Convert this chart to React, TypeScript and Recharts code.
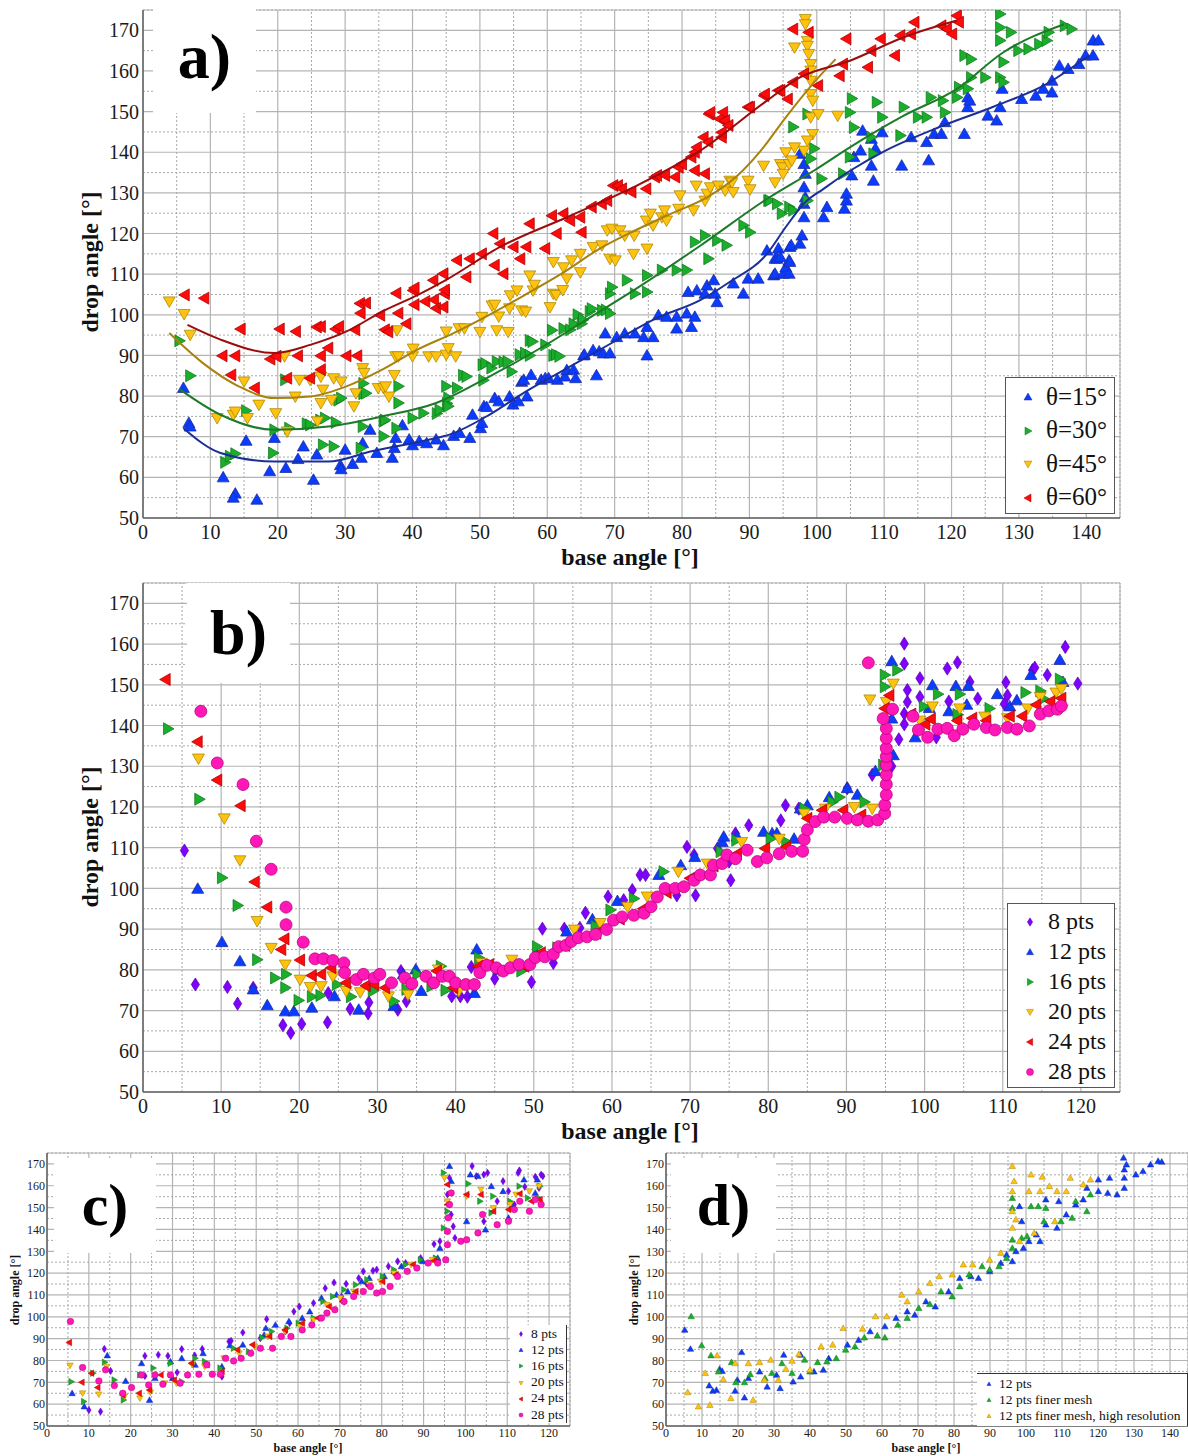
import React from "react";
import { ScatterChart, Scatter, XAxis, YAxis, CartesianGrid, ReferenceLine } from "recharts";

type Pt = [number, number];

// ---- shared ticks ----
const yTicks = [50, 60, 70, 80, 90, 100, 110, 120, 130, 140, 150, 160, 170];
const yMinor = [55, 65, 75, 85, 95, 105, 115, 125, 135, 145, 155, 165, 175];
const xTicks145 = [0, 10, 20, 30, 40, 50, 60, 70, 80, 90, 100, 110, 120, 130, 140];
const xMinor145 = [5, 15, 25, 35, 45, 55, 65, 75, 85, 95, 105, 115, 125, 135, 145];
const xTicks125 = [0, 10, 20, 30, 40, 50, 60, 70, 80, 90, 100, 110, 120];
const xMinor125 = [5, 15, 25, 35, 45, 55, 65, 75, 85, 95, 105, 115, 125];

// ---- panel a) ----
const aLabels = ["θ=15°", "θ=30°", "θ=45°", "θ=60°"];
const aBlue: Pt[] = [
  [6, 82], [6.8, 73.4], [7, 72.5], [11.9, 60], [13.7, 56], [13.4, 55], [15.3, 69], [16.9, 54.5], [18.8, 61.5], [19.5, 69.7],
  [21.2, 62.3], [23, 64.5], [23.8, 67.6], [25.3, 59.4], [25.8, 65.6], [29.3, 63], [29.4, 62], [30, 66.8], [31.1, 63.3], [32.4, 64.8],
  [32.6, 68.4], [33.7, 71.7], [34.7, 66], [37, 64.8], [37.3, 67.2], [37.5, 69.7], [38.5, 72.8], [39.5, 69.3], [40, 67.9], [41, 68.9],
  [42.1, 68.4], [43.5, 69.3], [44.6, 67.9], [46.1, 70.2], [47, 70.9], [48.5, 69.7], [48.9, 75.4], [50.1, 72.1], [50.3, 73.4], [50.6, 77.5],
  [51, 77.3], [52.2, 79.5], [52.8, 78.7], [54.4, 79.9], [54.9, 77.9], [55.7, 78.7], [56.2, 83.5], [56.5, 84], [57, 79.9], [57.6, 85.2],
  [59.1, 84], [59.7, 84.4], [60.2, 84.4], [61.5, 84], [62.6, 84.8], [62.9, 86.4], [63.9, 86.5], [64.2, 84.4], [65.4, 90], [65.5, 90.2],
  [66.8, 91.3], [67.3, 85.1], [67.7, 91], [68.3, 90.5], [68.6, 95.4], [69.3, 90.5], [70.3, 94.5], [71.5, 95.4], [73, 95.4], [74.3, 94.5],
  [74.8, 97], [74.8, 90], [75.7, 94.5], [76.5, 99.9], [77.7, 99.5], [79.2, 99.5], [79.2, 96.6], [80.7, 100.3], [80.9, 105.6], [81.4, 97],
  [81.9, 99.5], [82.2, 106], [83.4, 105.2], [83.7, 107.2], [84.7, 108.5], [84.9, 105.2], [85.2, 103.1], [87.6, 107.7], [89.1, 105.2], [89.8, 108.9],
  [91.3, 108.9], [92.6, 115.8], [93.6, 109.7], [93.8, 113.8], [93.8, 110.1], [94.1, 113.8], [94.3, 116.3], [94.6, 114.2], [95, 110.1], [95.4, 111.7],
  [95.9, 113.4], [95.9, 110.1], [96, 116.7], [96, 113], [96.2, 117.1], [97.5, 117.5], [97.8, 119.5], [98.1, 124], [98.1, 127.3], [98.1, 131.4],
  [98.3, 128.9], [98.3, 134.7], [98.1, 137.1], [97.5, 139.6], [101, 124], [101.5, 126.5], [104.1, 126.1], [104.4, 128.1], [104.4, 129.8], [105.2, 134.3],
  [105.5, 138.8], [106.5, 140.4], [106.8, 145.3], [108.1, 136.7], [108.1, 143.3], [108.4, 133], [108.7, 140.9], [109.7, 144.9], [112.6, 136.7], [114, 143.7],
  [116.3, 142.5], [116.6, 138], [117.4, 144.5], [118.5, 144.5], [119, 147.4], [121.9, 144.5], [122.4, 153.5], [122.4, 151.1], [122.7, 152.7], [125.4, 149],
  [126.7, 147.8], [127.2, 151.1], [127.5, 155.6], [130.4, 153.1], [132.5, 153.9], [133.6, 155.6], [134.9, 154.7], [134.9, 157.6], [136, 161.3], [137.3, 160.5],
  [138.9, 161.7], [139.9, 163.8], [141, 163.8], [141, 167.5], [141.8, 167.5],
];
const aGreen: Pt[] = [
  [5.4, 93.6], [7, 85], [12.2, 63.7], [12.9, 65.2], [13.7, 65.8], [15.3, 76.4], [19.3, 66], [19.5, 71.7], [21.1, 84], [21.7, 72.1],
  [24.3, 73.2], [24.8, 72.9], [26.3, 74.1], [26.7, 68], [27, 74.6], [28.3, 67.6], [28.6, 73.5], [29, 79], [29.4, 79.5], [32.3, 67.2],
  [32.6, 72.5], [32.7, 83.1], [32.7, 80.6], [33.1, 80.7], [35.7, 73.8], [35.7, 70.1], [35.9, 74.1], [37.6, 72.1], [37.9, 82.4], [37.9, 78.3],
  [40, 74.6], [41.6, 75.8], [43.6, 75.7], [44, 76.6], [45, 82.4], [45.1, 78.2], [45.3, 79.5], [45.3, 77.5], [46.6, 82], [47.5, 85.1],
  [48, 84.8], [50.4, 87.7], [50.5, 83.9], [50.8, 88], [51.7, 86.9], [52.5, 88.5], [53.5, 88.4], [54.1, 88.5], [54.7, 86], [55.9, 90.2],
  [56.7, 90.6], [57.4, 93.7], [57.4, 90], [57.8, 93.4], [59.7, 92.6], [60.7, 96.2], [60.9, 90], [61.3, 90.2], [61.8, 89.8], [62.4, 96.6],
  [63.4, 96.3], [63.9, 97.8], [64.5, 100], [65.1, 97.8], [65.3, 98.8], [66.3, 100.8], [66.6, 101.5], [68.1, 101.1], [68.7, 101.2], [69.3, 105.2],
  [69.3, 100.3], [69.6, 106.8], [71.8, 108.5], [73, 105.2], [74.8, 105.6], [74.8, 109.7], [77, 111], [79.2, 111], [80.7, 111], [81.9, 117.9],
  [83.4, 119.5], [83.9, 113.8], [85.2, 118.3], [86.6, 117.1], [89.1, 122], [90.1, 120.3], [92.8, 128.1], [93, 128.1], [94.1, 127.3], [94.8, 124.9],
  [95.9, 126.5], [96.5, 125.7], [96.5, 146.2], [98.6, 149.4], [98.6, 128.1], [99.1, 138.4], [99.6, 140.9], [100.7, 133.5], [103.9, 134.7], [104.9, 138.8],
  [104.9, 149.8], [105.2, 153.2], [105.5, 146.1], [108.1, 143.7], [108.4, 139.6], [108.9, 152.3], [109.7, 148.6], [112.4, 144.1], [112.9, 151.1], [115, 148.6],
  [116.3, 148.6], [116.9, 153.5], [118.7, 152.7], [119, 149.8], [120.8, 153.5], [121.1, 156], [121.9, 163.8], [122.4, 155.6], [122.9, 158.4], [122.9, 162.9],
  [125, 158.4], [127.2, 174], [127.2, 170.7], [127.2, 167.5], [127.7, 162.2], [127.2, 158.4], [127.7, 157.2], [128.8, 169.5], [129.9, 165], [131.4, 165.4],
  [133, 166.6], [134.1, 167.5], [134.4, 169.5], [136.8, 171.1], [137.8, 170.3],
];
const aYellow: Pt[] = [
  [3.9, 103.3], [6.1, 100.2], [7, 95.1], [11, 74.6], [13.4, 75.4], [13.7, 76.2], [15, 83.6], [15.5, 74.6], [17.2, 77.9], [19.7, 75.8],
  [21, 89.8], [21.4, 71.3], [22.6, 79.9], [23.2, 84], [24.8, 84], [25.9, 73.8], [26.4, 84.8], [26.4, 78.3], [26.7, 81.6], [28, 79.1],
  [28.3, 84.4], [29.4, 83.6], [31.3, 77.5], [31.6, 80.7], [32.6, 86.9], [32.8, 85.7], [34.9, 82], [35.7, 82], [36, 82.4], [36.5, 79.9],
  [37.3, 85.2], [37.5, 89.8], [37.7, 96.2], [37.9, 89.8], [40, 89.8], [40.1, 91.7], [42.4, 89.8], [43.5, 89.8], [45, 90.2], [45, 95.9],
  [45.3, 91.8], [46.4, 89.8], [46.9, 96.7], [47.7, 96.7], [50, 95.8], [50.3, 99.5], [51.8, 102.3], [52.2, 102.5], [52.5, 96.2], [52.8, 99.6],
  [54.2, 95.8], [54.4, 101.6], [54.5, 104.8], [55.5, 106], [56.2, 101.1], [56.8, 100.8], [57.4, 109.7], [57.9, 106], [58.1, 107.4], [60.4, 101.9],
  [60.9, 105.2], [60.9, 113], [61.3, 104.9], [62.3, 106.1], [62.4, 111.7], [62.9, 108.9], [63.6, 113.4], [64.9, 110.5], [64.9, 115], [66.8, 116.7],
  [68.1, 117.1], [68.9, 120.8], [69.3, 113.8], [69.6, 121.2], [70.1, 113.4], [70.8, 120.8], [71.5, 119.5], [72.8, 115], [72.9, 119.5], [74.7, 123.2],
  [74.8, 116.3], [75.3, 124.9], [75.7, 122], [77, 124], [77.4, 125.7], [77.7, 123.2], [79.5, 126.1], [79.7, 129.4], [81.7, 125.7], [82.1, 131.8],
  [83.4, 128.1], [83.7, 129.8], [84.2, 131.4], [85.4, 131.8], [86.4, 130.6], [87.1, 133], [87.4, 132.6], [87.6, 130.2], [89.8, 133], [90.1, 130.9],
  [92.1, 136.7], [93.8, 132.6], [94.6, 137.1], [94.9, 136.3], [95, 134.7], [95.4, 140], [95.9, 137.1], [96.3, 138], [96.7, 141.2], [96.7, 165.8],
  [98.3, 172.8], [98.3, 171.5], [98.6, 167.4], [98.6, 166.2], [98.8, 164.2], [99.1, 161.7], [99.1, 160.1], [99.1, 157.6], [99.1, 154.3], [99.4, 152.7],
  [99.1, 148.6], [99.4, 144.5], [98.6, 142.9], [98.1, 140.4], [100.2, 149.4], [103.1, 149],
];
const aRed: Pt[] = [
  [6.2, 104.9], [9.1, 104.1], [11.8, 89.9], [13.1, 85.2], [13.7, 89.9], [14.5, 96.5], [16.6, 82], [18.9, 89.1], [19.8, 89.8], [20.3, 96.5],
  [21.4, 84.4], [22.7, 95.9], [23, 89.9], [24.8, 84.4], [25.8, 97], [26.4, 97.1], [26.4, 89.9], [26.4, 86.5], [27.5, 91.8], [28.6, 96.5],
  [29.1, 97.1], [30.2, 89.9], [31.5, 96.3], [31.8, 89.9], [32.2, 102.8], [32.3, 100.4], [33.1, 102.9], [35.2, 99.9], [35.9, 96.3], [36.4, 95.8],
  [37.6, 105.3], [37.9, 100.4], [39.1, 97.8], [40.1, 106], [40.3, 102.5], [40.3, 106.6], [41.9, 103.3], [43.1, 108.5], [43.2, 103.7], [43.5, 101.6],
  [44.6, 110.1], [44.6, 101.9], [44.8, 105.2], [44.8, 106.1], [46.6, 113.4], [48, 109.3], [48.5, 113.8], [50.3, 115], [52, 120], [52.2, 112.2],
  [53, 117.5], [53.5, 110.1], [55, 116.7], [56, 113.8], [56.9, 116.7], [57.4, 122.4], [59.7, 116.3], [60.7, 124.4], [61.4, 120], [62.4, 124.9],
  [63.4, 123.2], [64.9, 124], [65.1, 120.3], [66.6, 126.5], [68.1, 127.3], [68.9, 128.1], [69.8, 131.8], [70.5, 131.8], [71.1, 131], [72.5, 130.2],
  [74.7, 131], [76, 133.9], [76.3, 134.3], [77.5, 134.3], [79, 133.9], [79.5, 136.3], [80, 137.1], [81.4, 138.8], [81.9, 135.5], [81.9, 140],
  [82.2, 141.2], [83.2, 143.7], [83.4, 134.7], [83.9, 142.5], [84, 149.4], [84.2, 149.8], [85.6, 148.2], [85.9, 143.7], [85.9, 144.9], [86.1, 149.8],
  [86.4, 147.8], [86.9, 146.6], [89.8, 151.1], [90.1, 151.1], [92.2, 153.9], [92.3, 154.3], [94.3, 155.2], [94.6, 155.2], [95.7, 153.1], [96.5, 157.2],
  [96.5, 170.3], [98.1, 159.3], [98.8, 169.5], [100.2, 156.4], [103.4, 158.8], [103.9, 161.7], [104.4, 167.9], [107.6, 160.9], [108.1, 165], [109.5, 167.9],
  [111.6, 163.8], [112.4, 168.7], [114, 169.1], [114.5, 172], [118.5, 171.1], [119.3, 170.3], [120.1, 169.1], [120.8, 173.6], [121.1, 172],
];
const aFitBlue: Pt[] = [
  [6, 72.1], [11.5, 66], [19.5, 63.9], [27.5, 63.9], [33.9, 66.4], [40.8, 68.7], [46.1, 70.9], [51.4, 75.4], [56.8, 81.1], [62.1, 86.1],
  [69.5, 93], [76, 99], [82.7, 103.6], [87, 108], [92.6, 115], [95.4, 121.6], [98.1, 127.4], [101, 131], [105, 135.5], [110.2, 140.4],
  [118.2, 146.2], [126.2, 151.2], [134, 156.7], [140.4, 163.8],
];
const aFitGreen: Pt[] = [
  [5.4, 81.7], [11.5, 75.4], [19.5, 71.7], [27.5, 72.5], [35.5, 75], [43.5, 78.3], [51.4, 84.8], [59.4, 92.2], [66, 99], [72.8, 106],
  [82.7, 117], [92.6, 128.5], [99.6, 135.5], [104.9, 141.2], [112.9, 149], [120.8, 155.6], [127.7, 164.6], [136.7, 171.5],
];
const aFitYellow: Pt[] = [
  [3.9, 95.5], [8.9, 88.1], [14.2, 82.4], [19.5, 79.5], [24.8, 79.9], [30.2, 82.4], [35.5, 86.5], [40.8, 91.5], [46.1, 95.5], [51.4, 100],
  [56.8, 105], [62, 110], [67.8, 116.3], [73.1, 120.8], [78.4, 124.9], [83.7, 128.9], [88, 133.9], [91.7, 140.4], [95.4, 148.6], [99.6, 157.2],
  [102.8, 162.9],
];
const aFitRed: Pt[] = [
  [6.6, 97.5], [11.5, 93.9], [19.5, 90.6], [24.8, 92.6], [30.2, 95.9], [35.5, 100.8], [40.8, 104.9], [45, 108.6], [53, 116.7], [62.9, 124],
  [72.8, 131.4], [82.7, 140.4], [92.6, 152.7], [97.5, 158.4], [104.9, 162.5], [112.9, 168.3], [120.8, 172.4],
];

// ---- panel b) ----
const ptsLabels = ["8 pts", "12 pts", "16 pts", "20 pts", "24 pts", "28 pts"];
const bPurple: Pt[] = [
  [5.3, 109.3], [6.7, 76.4], [10.8, 75.8], [12.1, 71.7], [14.1, 75.6], [17.9, 66.4], [18.9, 64.5], [20.3, 66.7], [23.6, 67.1], [23.7, 74.3],
  [26.5, 70.4], [28.8, 69.3], [28.9, 72], [32.6, 70.2], [33, 79.7], [33.7, 72.3], [39.5, 73.5], [40.6, 73.5], [41.5, 73.4], [42, 80.7],
  [45, 77.8], [49.7, 77], [51.1, 90.1], [52.5, 81.7], [53.9, 90.1], [55.9, 90.3], [56.6, 94], [59.5, 98], [61.5, 97.1], [62.6, 99.6],
  [63.6, 103.3], [64.3, 103.3], [68.3, 98.3], [69.6, 110.2], [70.5, 108.2], [70.7, 98.3], [73.5, 109.8], [75, 106.6], [75.2, 102], [75.8, 113.5],
  [77.5, 115.5], [81.6, 116.7], [82.2, 120.4], [83.9, 119.6], [90.1, 124.6], [93.3, 127.9], [95.8, 130], [96.7, 136.6], [97.4, 140.3], [97.4, 142.9],
  [97.4, 155.2], [97.4, 160.1], [97.8, 145.8], [97.8, 148.7], [99.4, 147], [99.4, 151.6], [101.5, 137.1], [102.9, 154], [103.1, 145.9], [104.2, 155.5],
  [105.8, 150.7], [106.8, 146.6], [110.2, 145.3], [110.4, 150.6], [110.6, 147.4], [113.8, 153.6], [114.1, 154.2], [115.7, 152.4], [118, 159.3], [119.6, 150.3],
];
const bBlue: Pt[] = [
  [7, 99.9], [10.1, 86.8], [12.4, 82.1], [14.1, 75.2], [15.9, 71.3], [18.2, 69.8], [19.3, 69.8], [21.6, 70.7], [24.5, 73.5], [27.6, 70.2],
  [32.1, 71.1], [33.3, 78.9], [34.9, 80.1], [35.6, 74.8], [42.4, 74.3], [42.7, 85], [45.5, 80], [50.3, 84], [54.2, 89.4], [57.5, 92.4],
  [60.7, 96.9], [66, 103.3], [68.8, 105.7], [70.6, 107.7], [74.1, 111.4], [74.3, 112.7], [76, 112.7], [79.4, 113.9], [80.5, 113.5], [81.1, 113.5],
  [83.3, 112.2], [84.1, 119.6], [85, 120.4], [87.8, 122.4], [90.1, 124.6], [91.4, 123], [93.7, 128.8], [95.8, 141.7], [95.8, 155.8], [96, 132.7],
  [98.8, 137.1], [100.6, 144.3], [101, 149.9], [103.1, 143.5], [104, 149.7], [105.4, 145.1], [105.6, 149.7], [109.3, 147.7], [110.9, 144.7], [111.8, 146.2],
  [113.6, 152.4], [117.3, 156.1], [117.7, 150.7],
];
const bGreen: Pt[] = [
  [3.2, 139.2], [7.2, 121.9], [10.1, 102.6], [12.1, 95.8], [14.6, 82.5], [16.9, 78], [18.3, 78.9], [18.2, 75.6], [19.9, 72.5], [21.6, 73.4],
  [22.7, 73.7], [24.8, 76.4], [26.6, 73.4], [29.4, 74.8], [32.1, 72.3], [33.7, 75.2], [35.1, 78.9], [36.9, 76], [38.1, 80.9], [38.7, 75],
  [43, 82.9], [46.1, 79.9], [48.4, 79.7], [50.4, 85.7], [53, 85.4], [57.9, 90.7], [59.8, 94.7], [62.8, 97.5], [66.6, 104.1], [73.9, 109],
  [75.9, 111.8], [80.3, 112.2], [82.3, 111.4], [84.6, 119.6], [88.2, 121.2], [89.1, 122.4], [92.3, 121.2], [94.7, 130.3], [94.9, 149.5], [94.9, 152.4],
  [96.5, 153.6], [99.9, 144.7], [101.7, 147.7], [104.2, 142.7], [104.5, 147.7], [108.3, 144.2], [112.9, 148.1], [114.8, 148.5], [115.2, 146.6], [117.3, 151.4],
];
const bYellow: Pt[] = [
  [7.1, 131.9], [10.4, 117.2], [12.4, 106.9], [14.6, 92], [16.4, 85.4], [18.2, 81.3], [20.1, 77.6], [21.4, 75.8], [22.8, 76], [24.3, 78.4],
  [26, 74.8], [27.8, 74.5], [31.4, 73.5], [33.9, 73.9], [37.8, 80.1], [40.4, 74.8], [43.3, 81.7], [47.2, 82.5], [55.2, 89.9], [58.5, 91.5],
  [62, 95.5], [64.5, 98], [68.5, 104.1], [72.2, 106.1], [76.6, 111.4], [81.4, 112.2], [84.6, 118.4], [87.3, 119.6], [91, 120], [93, 146.4],
  [93.3, 119.6], [95.1, 145.8], [96, 150.3], [99.4, 141.2], [101, 144.7], [104.5, 144.2], [107.7, 142.2], [110.6, 141.8], [113.2, 144.2], [114.8, 147],
  [116.8, 148.1], [117.5, 149],
];
const bRed: Pt[] = [
  [2.9, 151.3], [7, 136], [9.5, 126.6], [12.5, 120.3], [14.3, 101.6], [15.9, 95.4], [17.7, 85], [18.1, 87.6], [20.1, 82.4], [21.6, 78.6],
  [22.8, 78.9], [24.1, 80.5], [26, 76.8], [28.5, 76.1], [29.6, 76.4], [31, 75.6], [37.6, 79.7], [39.7, 75.6], [42.9, 80.9], [44.3, 81.3],
  [48.8, 80.9], [50.9, 84.2], [54, 86], [58, 89], [61, 92.5], [64, 95], [67, 99], [70, 102.5], [73, 105.5], [76, 108.5],
  [79.6, 109.8], [82.3, 110.2], [85, 117.2], [86.9, 119.2], [89.6, 119.2], [91.9, 118], [94.9, 144.2], [95.5, 147.4], [98.3, 142.8], [100.1, 140.3],
  [100.8, 141.6], [104.2, 141.2], [106.1, 141.8], [107.9, 141.2], [110.9, 142.3], [112.5, 142.3], [114.3, 145.1], [116.1, 145.9], [117.5, 146.7],
];
const bMagenta: Pt[] = [
  [7.4, 143.5], [9.5, 130.8], [12.8, 125.5], [14.5, 111.6], [16.4, 104.7], [18.3, 95.4], [18.3, 91.1], [20.5, 86.8], [22, 82.7], [23.1, 82.7],
  [24.3, 82.3], [25.7, 81.7], [25.8, 79.3], [27.3, 77.6], [28.2, 78.9], [29.6, 78], [30.3, 78.9], [31.8, 76.8], [33.5, 78], [34.4, 76.6],
  [36.2, 78.4], [37.2, 76.8], [38.3, 78.4], [39.2, 78.4], [40, 76.8], [41.3, 76.4], [42.4, 76.4], [43.1, 79.3], [44, 81.1], [45.2, 80.5],
  [46.1, 79.7], [47, 80.5], [48.1, 81.3], [49.5, 81.3], [50.2, 83], [51.4, 83.2], [52.5, 83.8], [53.2, 85.7], [54.1, 86], [54.8, 87],
  [55.7, 87.9], [56.8, 88.1], [57.9, 88.7], [59.3, 89.9], [60.2, 92.2], [61.3, 93], [62.8, 93.4], [64.1, 93.9], [65, 95.5], [65.8, 97.9],
  [66.8, 100], [68.1, 100], [69.2, 100.4], [70.5, 102], [71.3, 103.3], [72.6, 103.3], [73, 105.7], [74.1, 106.1], [74.7, 108.2], [75.8, 107.3],
  [77.3, 109.4], [78.6, 106.6], [79.8, 107.5], [81.4, 108.5], [83, 109.1], [84.4, 109.1], [84.6, 112], [85, 114.4], [86, 116.4], [87.1, 117.5],
  [88.5, 117.5], [90.1, 117.2], [91.4, 116.8], [92.8, 116.5], [94, 116.8], [94.9, 118.4], [94.9, 120.5], [95.1, 123], [95.1, 125.6], [95.1, 127.9],
  [95.1, 130.3], [95.1, 132.4], [95.1, 134.4], [95.1, 136.9], [95.1, 139.3], [94.7, 141.7], [95.9, 144], [92.8, 155.4], [98.5, 142.3], [99.2, 138.9],
  [100.4, 137.1], [101.7, 139.1], [102.9, 139.3], [103.8, 137.5], [104.9, 139.1], [106.3, 140.3], [107.9, 139.5], [109, 138.9], [110.6, 139.5], [111.8, 139.1],
  [113.4, 139.9], [114.8, 142.8], [115.9, 143.6], [117, 144], [117.5, 144.8],
];

// ---- panel c) ----
const cPurple: Pt[] = [
  [13.7, 85.3], [15.2, 75.2], [10, 57.3], [12.8, 56.6], [23.4, 72.9], [23.4, 82.1], [26.6, 82.6], [28.9, 82.1], [31.1, 74.5], [32.2, 85.2],
  [35.3, 82.3], [37.1, 85.3], [41.8, 72.6], [43.5, 88.7], [44, 89], [46.8, 92.8], [51, 90.2], [52.5, 98.9], [57, 93.3], [58, 97.1],
  [59, 102.4], [60.3, 104.7], [63.7, 106.3], [66.5, 113.1], [68.6, 115.7], [70.4, 109.3], [71.5, 115.1], [74.5, 117.7], [75.6, 120.8], [76.3, 115.4],
  [77.9, 121.1], [78.8, 121.6], [81.6, 123.1], [83.8, 125.4], [85.7, 124.6], [89.3, 126.9], [92.5, 133.3], [93.9, 134.6], [95.7, 156], [96.2, 163.6],
  [96.6, 146.8], [97.1, 141.4], [97.5, 136.1], [101.6, 169], [102.6, 164.4], [104.4, 165.1], [105.3, 165.9], [109, 162.1], [110.3, 157.5], [112.6, 165.9],
  [112.9, 167], [114.2, 159.5], [116.7, 164.1], [118.1, 165.1], [118.5, 164.4], [117.6, 159], [111.7, 151.4], [107.6, 152.9], [104.4, 143.7],
];
const cBlue: Pt[] = [
  [6, 65], [8.9, 58.9], [14.4, 82.3], [18.8, 70.6], [22.6, 78.7], [24.5, 61.9], [25.8, 71.9], [30, 71.9], [29.5, 79.5], [32.2, 81],
  [35.4, 78], [37.3, 83.3], [41.8, 77.2], [43.7, 86.9], [46.8, 87.2], [51.9, 91.7], [52.3, 94.8], [54.6, 96.3], [57.8, 97.9], [61, 99.4],
  [62.8, 102.4], [65.6, 108.6], [69.2, 110.1], [71.9, 111.6], [75.2, 116.2], [77, 117.7], [80.6, 118.5], [83, 120.8], [84.7, 123.1], [89.8, 125.4],
  [93.4, 126.9], [93.9, 131.5], [96.2, 169], [96.6, 162.1], [101.2, 165.1], [103, 164.4], [106.2, 159.8], [109, 157.5], [111.2, 151.4], [114, 162.8],
  [110.3, 145.3], [116.7, 156.7], [117.2, 162.8], [104.8, 139.9], [100.3, 143.7],
];
const cGreen: Pt[] = [
  [5.8, 70.3], [8.8, 61.2], [11, 74.2], [13.8, 79.2], [16.1, 71.1], [18.3, 61.9], [22.2, 73.4], [25.4, 76.5], [29.5, 78.7], [32.2, 70.3],
  [35.4, 81], [37.7, 79.5], [41.4, 76.5], [44.6, 85.6], [48.2, 84.1], [51.4, 90.5], [53.7, 93.3], [57.4, 94.8], [60.1, 97.1], [63.7, 99.4],
  [66, 107], [68.3, 109.3], [71, 112.4], [73.8, 114.7], [76.5, 117], [80.2, 118.5], [82.9, 121.6], [85.7, 123.9], [89.3, 126.1], [92.9, 126.9],
  [94.8, 140.7], [94.8, 165.9], [95.7, 148.3], [100.7, 160.9], [103.5, 152.9], [106.2, 147.6], [106.6, 155.2], [110.7, 152.9], [112.9, 159.8], [114.9, 154.4],
  [117.4, 154.4], [117.8, 159.8],
];
const cYellow: Pt[] = [
  [5.5, 77.7], [8.5, 65], [12.4, 64.5], [14.2, 77.2], [18.5, 63.5], [22.2, 62.7], [24.7, 65.4], [28.1, 69.6], [30.9, 69.6], [34.7, 78],
  [37.7, 77.2], [42.3, 81], [45.9, 83.3], [49.6, 86.4], [52.8, 91], [56.9, 93.3], [60.5, 95.6], [63.7, 98.6], [66.9, 105.5], [70.1, 108.6],
  [73.3, 111.6], [77, 114.7], [79.7, 116.2], [82.9, 120], [87, 123.9], [92.1, 126.1], [95, 163.6], [95.7, 152.9], [100.3, 155.2], [103.7, 158.3],
  [106.7, 149.8], [110.7, 151.4], [112.1, 156], [115.3, 157.5], [117.8, 152.1], [117.6, 159.8],
];
const cRed: Pt[] = [
  [5.3, 88.2], [8.3, 70], [12.1, 67.6], [10.6, 74.2], [18.1, 64.2], [22, 65], [24.5, 66.5], [27.2, 73.4], [30.4, 71.1], [34.5, 78.7],
  [38.2, 78], [41.8, 74.9], [45.5, 84.9], [49.1, 87.2], [53.2, 91], [56.9, 94], [61, 97.1], [64.7, 99.4], [67.4, 104.7], [70.6, 107],
  [73.8, 111.6], [77, 113.9], [80.2, 116.2], [83.4, 119.3], [87.5, 123.9], [92.5, 125.7], [95.7, 160.6], [95.7, 151.4], [100.3, 156], [103.7, 156],
  [106.7, 148.3], [110.3, 149.1], [113, 156.3], [115.8, 152.9], [117.8, 153.7],
];
const cMagenta: Pt[] = [
  [5.6, 97.9], [8.5, 76.8], [12.4, 70.6], [14, 75.7], [16.1, 68.5], [18.1, 65], [20.2, 67.6], [22.6, 73.4], [24.3, 68.8], [25.8, 73.4],
  [27.7, 69.1], [29.5, 73.4], [31.8, 69.6], [33.6, 73.4], [36.3, 73.7], [38.2, 78], [39.5, 73.7], [41.4, 73.7], [42.7, 81], [44.6, 79.8],
  [46.4, 81], [48.7, 83.3], [51, 85.6], [53.9, 85.6], [56, 91], [58.3, 91], [61, 94], [63.3, 96.3], [65.6, 99.4], [66.9, 101.7],
  [68.8, 103.2], [71, 107], [73.3, 109.3], [75.6, 111.6], [77.3, 113.9], [78.8, 110.9], [80.2, 111.6], [82, 113.9], [83.8, 118.5], [86.1, 120.8],
  [88.4, 122.3], [91.1, 124.6], [93.4, 124.6], [95.3, 126.1], [95.7, 133], [95.7, 139.1], [95.9, 145.3], [96.2, 151.4], [96.6, 156.7], [98.9, 134.6],
  [100.3, 135.3], [103, 138.4], [104.1, 146.8], [107.6, 142.2], [110.3, 143.7], [111.7, 149.1], [113, 152.9], [115.3, 148.3], [116.7, 153.7], [118.1, 151.4],
];

// ---- panel d) ----
const dLabels = ["12 pts", "12 pts finer mesh", "12 pts finer mesh, high resolution"];
const dBlue: Pt[] = [
  [5.2, 94], [6.8, 85.3], [12, 68.5], [13, 66.1], [14, 66.5], [14.9, 76.1], [15.6, 75.2], [19.2, 66.1], [19.8, 71.1], [21, 83.8],
  [21.8, 63], [22.9, 71.9], [26, 74.9], [28.1, 68], [30.7, 73.4], [31.7, 67.3], [32.7, 82.6], [35.3, 70.3], [37.4, 72.6], [37.4, 82.6],
  [41.1, 74.9], [43.7, 75.7], [45.2, 81], [50.4, 87.2], [53.5, 89.4], [56.7, 93.3], [60.8, 95.6], [63.9, 99.4], [67, 102.4], [69.1, 100.9],
  [72.2, 107], [74.8, 104.7], [78.5, 111.6], [81.6, 117.7], [84.7, 118.5], [86.8, 117.7], [89.9, 120.8], [93, 124.6], [94.6, 128.4], [96.2, 125.4],
  [97.2, 130], [98.2, 150.6], [98.8, 143.7], [99.3, 131.5], [100.8, 134.6], [102.9, 137.6], [103.9, 134.6], [105.5, 153.7], [105.5, 142.2], [108.6, 140.7],
  [109.1, 152.9], [111.2, 146.8], [113.8, 151.4], [115.9, 153.7], [116.9, 159], [120.1, 157.5], [120.1, 162.8], [122.7, 156.7], [123.2, 163.6], [125.3, 156],
  [127.1, 172.8], [127.3, 167.4], [127.3, 163.6], [127.3, 159], [127.9, 169.7], [130.5, 165.1], [132.5, 166.7], [134.6, 169.7], [136.7, 171.3], [137.7, 171],
];
const dGreen: Pt[] = [
  [7, 100.2], [9.9, 86.9], [12.5, 82.3], [14.6, 74.9], [18.2, 79.2], [19.4, 70], [21.8, 70], [23.4, 73.7], [27.5, 71.9], [29.4, 74.2],
  [32.2, 78.7], [35, 74.2], [38.5, 80.3], [40, 74.9], [42.1, 79.2], [44.7, 79.5], [47.3, 81], [49.9, 84.9], [52.5, 86.4], [55.1, 90.5],
  [58.7, 91.4], [60.8, 90.5], [64.4, 96.3], [67, 99.4], [70.2, 104], [73.3, 105.8], [76.4, 111.6], [79.5, 109.3], [81.6, 113.9], [84.2, 119.3],
  [87.8, 123.1], [89.9, 121.6], [92.5, 123.1], [94.6, 126.9], [96.2, 154.4], [96.2, 149.8], [96.2, 135.3], [96.2, 131.5], [98.8, 136.1], [100.3, 136.9],
  [101.4, 150.6], [103.4, 150.6], [105, 143.7], [105.5, 149.8], [109.7, 143.7], [112.8, 145.3], [113.8, 152.9], [116.9, 148.3], [117.9, 156],
];
const dYellow: Pt[] = [
  [6, 65.4], [9, 58.9], [10.9, 74.2], [12.2, 59.6], [14.2, 82.3], [15.9, 71.4], [18, 62.7], [19.2, 78.7], [22.9, 78.7], [24.2, 61.9],
  [26, 79.2], [27.3, 71.1], [29.1, 80.3], [31.2, 71.1], [33.3, 76.1], [35, 79.8], [36.9, 82.9], [40, 75.7], [43.1, 86.4], [46.3, 87.2],
  [49.2, 94.8], [54.6, 94.5], [58.2, 100.2], [61.3, 100.2], [65.5, 110.1], [67, 107], [70.2, 111.6], [73.3, 115.4], [75.9, 118.5], [79.5, 119.3],
  [82.6, 123.9], [85.2, 123.9], [89.9, 126.1], [93, 129.2], [96.2, 169], [96.7, 162.1], [96.2, 157.5], [96.2, 148.3], [96.2, 140.7], [97.2, 144.5],
  [100.8, 157.5], [101.4, 165.1], [104.5, 164.1], [103.9, 157.5], [106.5, 159.8], [108.6, 157.5], [111.2, 157.5], [112.3, 163.6], [115.9, 160.6], [117.9, 162.8],
  [98.2, 134.6], [102.3, 138.4], [108, 143.7],
];

// ---- styling ----
const C = {
  blue: ["#0a3cff", "#1d2a9a"],
  green: ["#1aae2c", "#0f7a1b"],
  yellow: ["#ffc20e", "#a88600"],
  red: ["#ff0a0a", "#a80000"],
  purple: ["#7f00ff", "#5200a8"],
  magenta: ["#ff17b8", "#b8007c"],
};
const SERIF = "'Liberation Serif', 'DejaVu Serif', serif";

type Kind = "up" | "down" | "left" | "right" | "diamond" | "circle";

function Glyph({ kind, x, y, s, fill, stroke }: { kind: Kind; x: number; y: number; s: number; fill: string; stroke: string }) {
  const h = s / 2;
  const sw = Math.max(0.5, s / 16);
  if (kind === "circle") return <circle cx={x} cy={y} r={h} fill={fill} stroke={stroke} strokeWidth={sw} />;
  let p: number[][];
  if (kind === "up") p = [[x, y - h], [x + h, y + h * 0.75], [x - h, y + h * 0.75]];
  else if (kind === "down") p = [[x, y + h], [x + h, y - h * 0.75], [x - h, y - h * 0.75]];
  else if (kind === "right") p = [[x + h, y], [x - h * 0.75, y - h], [x - h * 0.75, y + h]];
  else if (kind === "left") p = [[x - h, y], [x + h * 0.75, y - h], [x + h * 0.75, y + h]];
  else p = [[x, y - h * 1.2], [x + h * 0.75, y], [x, y + h * 1.2], [x - h * 0.75, y]];
  return <polygon points={p.map((q) => q.join(",")).join(" ")} fill={fill} stroke={stroke} strokeWidth={sw} />;
}

const shapeOf = (kind: Kind, col: string[], s: number) => (props: any) => {
  if (props.cx == null || props.cy == null) return <g />;
  return <Glyph kind={kind} x={props.cx} y={props.cy} s={s} fill={col[0]} stroke={col[1]} />;
};

const toXY = (pts: Pt[]) => pts.map(([x, y]) => ({ x, y }));

interface SeriesDef { data: Pt[]; kind: Kind; col: string[]; size: number }
interface FitDef { data: Pt[]; stroke: string }

function Panel(props: {
  left: number; top: number; width: number; height: number;
  margin: { top: number; right: number; bottom: number; left: number };
  xMax: number; xTicks: number[]; xMinor: number[];
  font: number; yAxisWidth: number; xAxisHeight: number; xGap: number; yGap: number;
  series: SeriesDef[]; fits?: FitDef[];
}) {
  const p = props;
  const tick = { fontSize: p.font, fill: "#1a1a1a", fontFamily: SERIF };
  return (
    <div style={{ position: "absolute", left: p.left, top: p.top }}>
      <ScatterChart width={p.width} height={p.height} margin={p.margin}>
        <CartesianGrid stroke="#b4b4b4" strokeWidth={1.2} />
        {p.xMinor.map((v) => (
          <ReferenceLine key={"mx" + v} x={v} stroke="#a8a8a8" strokeDasharray="2 2" />
        ))}
        {yMinor.map((v) => (
          <ReferenceLine key={"my" + v} y={v} stroke="#a8a8a8" strokeDasharray="2 2" />
        ))}
        <XAxis
          type="number"
          dataKey="x"
          domain={[0, p.xMax]}
          ticks={p.xTicks}
          interval={0}
          allowDataOverflow
          height={p.xAxisHeight}
          tickLine={false}
          tickSize={p.xGap}
          tickMargin={1}
          axisLine={{ stroke: "#606060", strokeWidth: 1.5 }}
          tick={tick}
        />
        <YAxis
          type="number"
          dataKey="y"
          domain={[50, 175]}
          ticks={yTicks}
          interval={0}
          allowDataOverflow
          width={p.yAxisWidth}
          tickLine={false}
          tickSize={p.yGap}
          tickMargin={1}
          axisLine={{ stroke: "#606060", strokeWidth: 1.5 }}
          tick={tick}
        />
        {p.series.map((s, i) => (
          <Scatter key={"s" + i} data={toXY(s.data)} shape={shapeOf(s.kind, s.col, s.size)} isAnimationActive={false} />
        ))}
        {(p.fits || []).map((f, i) => (
          <Scatter
            key={"f" + i}
            data={toXY(f.data)}
            line={{ stroke: f.stroke, strokeWidth: 2 }}
            lineJointType="monotoneX"
            shape={() => <g />}
            isAnimationActive={false}
          />
        ))}
      </ScatterChart>
    </div>
  );
}

function Legend(props: {
  left: number; top: number; width: number; height: number; rowTop: number; rowGap: number;
  markX: number; textX: number; font: number; mark: number; labels: string[]; kinds: Kind[]; cols: string[][];
  border: React.CSSProperties;
}) {
  const p = props;
  return (
    <div style={{ position: "absolute", left: p.left, top: p.top, width: p.width, height: p.height, background: "#fff", boxSizing: "border-box", ...p.border }}>
      {p.labels.map((lab, i) => (
        <div key={lab} style={{ position: "absolute", left: 0, top: p.rowTop + i * p.rowGap, height: 0 }}>
          <svg width={p.mark * 2} height={p.mark * 2} style={{ position: "absolute", left: p.markX - p.mark, top: -p.mark }}>
            <Glyph kind={p.kinds[i]} x={p.mark} y={p.mark} s={p.mark} fill={p.cols[i][0]} stroke={p.cols[i][1]} />
          </svg>
          <span style={{ position: "absolute", left: p.textX, top: -p.font * 0.62, fontFamily: SERIF, fontSize: p.font, whiteSpace: "nowrap", color: "#111", lineHeight: 1.2 }}>
            {lab}
          </span>
        </div>
      ))}
    </div>
  );
}

const LetterBox = ({ left, top, width, height, text, font }: { left: number; top: number; width: number; height: number; text: string; font: number }) => (
  <div style={{ position: "absolute", left, top, width, height, background: "#fff", display: "flex", alignItems: "center", justifyContent: "center", fontFamily: SERIF, fontWeight: "bold", fontSize: font, color: "#000" }}>
    {text}
  </div>
);

const AxisTitle = ({ x, y, text, font, rotate }: { x: number; y: number; text: string; font: number; rotate?: boolean }) => (
  <div style={{ position: "absolute", left: x, top: y, transform: `translate(-50%, -50%)${rotate ? " rotate(-90deg)" : ""}`, fontFamily: SERIF, fontWeight: "bold", fontSize: font, whiteSpace: "nowrap", color: "#111", lineHeight: 1 }}>
    {text}
  </div>
);

const sixKinds: Kind[] = ["diamond", "up", "right", "down", "left", "circle"];
const sixCols = [C.purple, C.blue, C.green, C.yellow, C.red, C.magenta];

export default function App() {
  return (
    <div style={{ position: "absolute", left: 0, top: 0, width: 1188, height: 1456, background: "#fff", overflow: "hidden" }}>
      {/* a) */}
      <Panel
        left={0} top={0} width={1188} height={580}
        margin={{ top: 10, right: 68, bottom: 32, left: 83 }}
        xMax={145} xTicks={xTicks145} xMinor={xMinor145}
        font={20} yAxisWidth={60} xAxisHeight={30} xGap={6} yGap={3}
        series={[
          { data: aBlue, kind: "up", col: C.blue, size: 12 },
          { data: aGreen, kind: "right", col: C.green, size: 12 },
          { data: aYellow, kind: "down", col: C.yellow, size: 12 },
          { data: aRed, kind: "left", col: C.red, size: 12 },
        ]}
        fits={[
          { data: aFitBlue, stroke: "#1b2f99" },
          { data: aFitGreen, stroke: "#1c7a28" },
          { data: aFitYellow, stroke: "#a8820c" },
          { data: aFitRed, stroke: "#9c0c0c" },
        ]}
      />
      <LetterBox left={153} top={0} width={103} height={113} text="a)" font={64} />
      <AxisTitle x={90} y={262} text="drop angle [°]" font={24} rotate />
      <AxisTitle x={630} y={557} text="base angle [°]" font={24} />
      <Legend
        left={1005} top={377} width={110} height={137} rowTop={19} rowGap={33.5}
        markX={22} textX={40} font={25} mark={8}
        labels={aLabels} kinds={["up", "right", "down", "left"]} cols={[C.blue, C.green, C.yellow, C.red]}
        border={{ border: "1.5px solid #555" }}
      />

      {/* b) */}
      <Panel
        left={0} top={575} width={1188} height={580}
        margin={{ top: 8, right: 68, bottom: 33, left: 83 }}
        xMax={125} xTicks={xTicks125} xMinor={xMinor125}
        font={20} yAxisWidth={60} xAxisHeight={30} xGap={6} yGap={3}
        series={[
          { data: bPurple, kind: "diamond", col: C.purple, size: 11 },
          { data: bBlue, kind: "up", col: C.blue, size: 12 },
          { data: bGreen, kind: "right", col: C.green, size: 12 },
          { data: bYellow, kind: "down", col: C.yellow, size: 12 },
          { data: bRed, kind: "left", col: C.red, size: 12 },
          { data: bMagenta, kind: "circle", col: C.magenta, size: 12 },
        ]}
      />
      <LetterBox left={187} top={583} width={103} height={100} text="b)" font={64} />
      <AxisTitle x={90} y={837} text="drop angle [°]" font={24} rotate />
      <AxisTitle x={630} y={1131} text="base angle [°]" font={24} />
      <Legend
        left={1007} top={903} width={108} height={185} rowTop={18} rowGap={30}
        markX={22} textX={40} font={24} mark={7}
        labels={ptsLabels} kinds={sixKinds} cols={sixCols}
        border={{ border: "1.5px solid #555" }}
      />

      {/* c) */}
      <Panel
        left={0} top={1145} width={600} height={311}
        margin={{ top: 8, right: 30, bottom: 15, left: 19 }}
        xMax={125} xTicks={xTicks125} xMinor={xMinor125}
        font={12} yAxisWidth={28} xAxisHeight={15} xGap={1} yGap={1}
        series={[
          { data: cPurple, kind: "diamond", col: C.purple, size: 6 },
          { data: cBlue, kind: "up", col: C.blue, size: 6.5 },
          { data: cGreen, kind: "right", col: C.green, size: 6.5 },
          { data: cYellow, kind: "down", col: C.yellow, size: 6.5 },
          { data: cRed, kind: "left", col: C.red, size: 6.5 },
          { data: cMagenta, kind: "circle", col: C.magenta, size: 6.5 },
        ]}
      />
      <LetterBox left={54} top={1158} width={102} height={95} text="c)" font={60} />
      <AxisTitle x={15} y={1290} text="drop angle [°]" font={12} rotate />
      <AxisTitle x={308} y={1448} text="base angle [°]" font={12} />
      <Legend
        left={510} top={1325} width={57} height={98} rowTop={9} rowGap={16.2}
        markX={11} textX={21} font={13.5} mark={4}
        labels={ptsLabels} kinds={sixKinds} cols={sixCols}
        border={{ borderRight: "1px solid #333" }}
      />

      {/* d) */}
      <Panel
        left={600} top={1145} width={588} height={311}
        margin={{ top: 8, right: 0, bottom: 15, left: 38 }}
        xMax={145} xTicks={xTicks145} xMinor={xMinor145}
        font={12} yAxisWidth={28} xAxisHeight={15} xGap={1} yGap={1}
        series={[
          { data: dBlue, kind: "up", col: C.blue, size: 6.5 },
          { data: dGreen, kind: "up", col: C.green, size: 6.5 },
          { data: dYellow, kind: "up", col: C.yellow, size: 6.5 },
        ]}
      />
      <LetterBox left={671} top={1158} width={105} height={95} text="d)" font={60} />
      <AxisTitle x={634} y={1290} text="drop angle [°]" font={12} rotate />
      <AxisTitle x={926} y={1448} text="base angle [°]" font={12} />
      <Legend
        left={977} top={1373} width={211} height={53} rowTop={10} rowGap={16.2}
        markX={12} textX={22} font={13.5} mark={4}
        labels={dLabels} kinds={["up", "up", "up"]} cols={[C.blue, C.green, C.yellow]}
        border={{ borderTop: "1px solid #333", borderRight: "1px solid #333" }}
      />
    </div>
  );
}
